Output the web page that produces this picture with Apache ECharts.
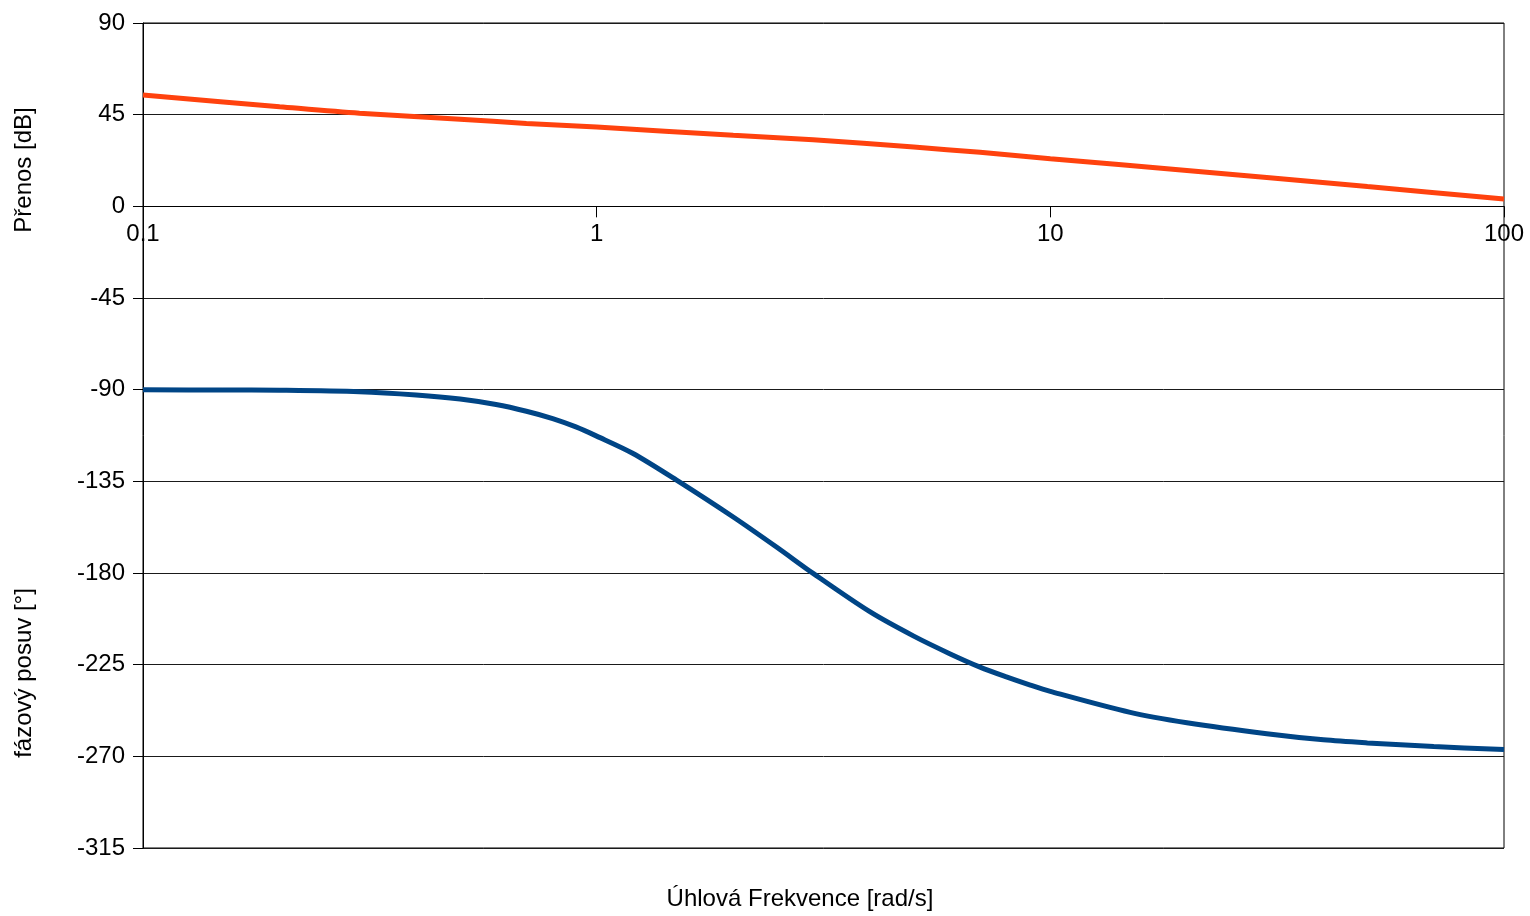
<!DOCTYPE html>
<html>
<head>
<meta charset="utf-8">
<script src="https://cdn.jsdelivr.net/npm/echarts@6/dist/echarts.min.js"></script>
<style>
html,body{margin:0;padding:0;background:#fff;}
#chart{width:1530px;height:916px;}
</style>
</head>
<body>
<div id="chart"></div>
<script>
// Magnitude (Přenos) data
const freqMag = [0.1, 0.2, 0.3, 0.5, 0.7, 1, 2, 3, 5, 7, 10, 20, 30, 50, 100];
const magDb   = [54.6, 48.9, 45.7, 42.8, 40.7, 38.9, 34.9, 32.7, 29.1, 26.5, 23.4, 17.6, 14.2, 9.7, 3.6];

// Phase (fázový posuv) data
const freqPhase = [0.1, 0.15, 0.2, 0.3, 0.4, 0.5, 0.6, 0.7, 0.8, 0.9, 1, 1.2, 1.5, 2, 2.5, 3, 4, 5, 6, 7, 8, 9, 10, 15, 20, 30, 40, 50, 70, 100];
const phaseDeg  = [-90.1, -90.2, -90.3, -91.0, -92.6, -94.6, -97.3, -100.6, -104.2, -108.3, -112.8, -121.2, -134.4, -152.5, -167.5, -180.2, -199, -211, -219.6, -226.2, -231.0, -234.9, -238.1, -248.4, -253.5, -258.9, -261.9, -263.4, -265.2, -266.7];

// Axis settings
const yMin = -315, yMax = 90, yStep = 45;
const xMin = 0.1, xMax = 100;

const xTitle = 'Úhlová Frekvence [rad/s]';
const yTitleMag = 'Přenos [dB]';
const yTitlePhase = 'fázový posuv [°]';

const FONT = 'Liberation Sans, Arial, sans-serif';
const FS = 24;

const GRID = {left: 143, right: 26, top: 23, bottom: 68};
const plotH = 916 - GRID.top - GRID.bottom;
// move the frequency axis (line, ticks, labels) up to the y = 0 level
const zeroOffset = -((0 - yMin) / (yMax - yMin)) * plotH;

const chart = echarts.init(document.getElementById('chart'), null, {renderer: 'canvas'});

const option = {
  backgroundColor: '#ffffff',
  animation: false,
  grid: Object.assign({
    show: true, borderColor: '#000', borderWidth: 1, backgroundColor: 'transparent'
  }, GRID),
  xAxis: {
    type: 'log',
    logBase: 10,
    min: xMin,
    max: xMax,
    position: 'bottom',
    offset: zeroOffset,
    axisLine: {show: true, onZero: false, lineStyle: {color: '#000', width: 1}},
    axisTick: {show: true, length: 11, lineStyle: {color: '#000'}},
    axisLabel: {
      show: true, margin: 16, color: '#000', fontSize: FS, fontFamily: FONT,
      showMinLabel: true, showMaxLabel: true, hideOverlap: false,
      formatter: v => String(+Number(v).toPrecision(6))
    },
    splitLine: {show: false},
    minorTick: {show: false}
  },
  yAxis: {
    type: 'value',
    min: yMin, max: yMax, interval: yStep,
    axisLine: {show: true, lineStyle: {color: '#000', width: 1}},
    axisTick: {show: true, length: 10, lineStyle: {color: '#000'}},
    axisLabel: {margin: 18, color: '#000', fontSize: FS, fontFamily: FONT},
    splitLine: {show: true, lineStyle: {color: '#1a1a1a', width: 1}}
  },
  series: [
    {
      name: yTitlePhase,
      type: 'line',
      data: freqPhase.map((f, i) => [f, phaseDeg[i]]),
      showSymbol: false,
      smooth: 0.3,
      lineStyle: {color: '#004586', width: 5},
      itemStyle: {color: '#004586'},
      z: 3
    },
    {
      name: yTitleMag,
      type: 'line',
      data: freqMag.map((f, i) => [f, magDb[i]]),
      showSymbol: false,
      smooth: 0.3,
      lineStyle: {color: '#ff420e', width: 5},
      itemStyle: {color: '#ff420e'},
      z: 3
    }
  ],
  graphic: [
    {
      type: 'text', x: 24, y: 170, rotation: Math.PI / 2,
      style: {text: yTitleMag, fill: '#000', fontSize: FS, fontFamily: FONT,
        align: 'center', verticalAlign: 'middle', textAlign: 'center', textVerticalAlign: 'middle'}
    },
    {
      type: 'text', x: 24, y: 673, rotation: Math.PI / 2,
      style: {text: yTitlePhase, fill: '#000', fontSize: FS, fontFamily: FONT,
        align: 'center', verticalAlign: 'middle', textAlign: 'center', textVerticalAlign: 'middle'}
    },
    {
      type: 'text', x: 800, y: 899,
      style: {text: xTitle, fill: '#000', fontSize: FS, fontFamily: FONT,
        align: 'center', verticalAlign: 'middle', textAlign: 'center', textVerticalAlign: 'middle'}
    }
  ]
};

chart.setOption(option);
</script>
</body>
</html>
